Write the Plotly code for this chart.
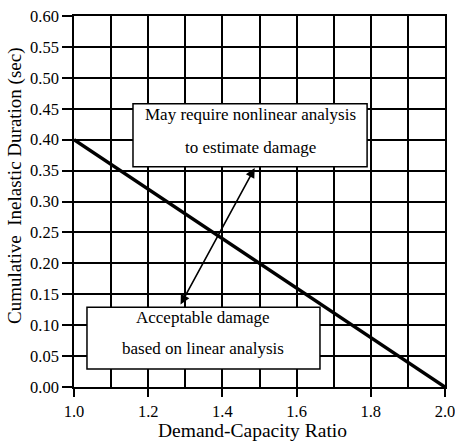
import plotly.graph_objects as go

# Data
ratio = [1.0, 2.0]
duration = [0.40, 0.00]
x_ticks = [1.0, 1.2, 1.4, 1.6, 1.8, 2.0]
x_ticklabels = ["1.0", "1.2", "1.4", "1.6", "1.8", "2.0"]
y_ticks = [0.00, 0.05, 0.10, 0.15, 0.20, 0.25, 0.30, 0.35, 0.40, 0.45, 0.50, 0.55, 0.60]
y_ticklabels = ["%.2f" % v for v in y_ticks]
box_upper_lines = ["May require nonlinear analysis", "to estimate damage"]
box_lower_lines = ["Acceptable damage", "based on linear analysis"]
x_title = "Demand-Capacity Ratio"
y_title = "Cumulative  Inelastic Duration (sec)"

FONT = "Liberation Serif, Times New Roman, serif"

fig = go.Figure()
fig.add_trace(go.Scatter(x=ratio, y=duration, mode="lines",
                         line=dict(color="black", width=3.5),
                         cliponaxis=False, showlegend=False, hoverinfo="skip"))

boxes = [
    dict(x0=1.159, x1=1.790, y0=0.356, y1=0.458, lines=box_upper_lines, ly=[0.440, 0.387]),
    dict(x0=1.035, x1=1.663, y0=0.029, y1=0.129, lines=box_lower_lines, ly=[0.113, 0.062]),
]
for b in boxes:
    fig.add_shape(type="rect", xref="x", yref="y", x0=b["x0"], x1=b["x1"], y0=b["y0"], y1=b["y1"],
                  line=dict(color="black", width=1.5), fillcolor="white", layer="above")
    xc = (b["x0"] + b["x1"]) / 2
    for t, yy in zip(b["lines"], b["ly"]):
        fig.add_annotation(x=xc, y=yy, xref="x", yref="y", text=t, showarrow=False,
                           xanchor="center", yanchor="middle",
                           font=dict(family=FONT, size=17, color="black"))

# double-headed arrow
fig.add_annotation(x=1.487, y=0.354, ax=1.285, ay=0.131, xref="x", yref="y", axref="x", ayref="y",
                   text="", showarrow=True, arrowhead=2, arrowside="end+start",
                   arrowsize=1.2, arrowwidth=1.6, arrowcolor="black", startarrowhead=2, startarrowsize=1.2)

# axis titles as annotations for precise placement
fig.add_annotation(x=0.481, y=-0.116, xref="paper", yref="paper", text=x_title, showarrow=False,
                   xanchor="center", yanchor="middle",
                   font=dict(family=FONT, size=19.5, color="black"))
fig.add_annotation(x=-0.159, y=0.542, xref="paper", yref="paper", text=y_title, showarrow=False,
                   xanchor="center", yanchor="middle",
                   textangle=-90, font=dict(family=FONT, size=19, color="black"))

fig.update_layout(
    width=455, height=442,
    margin=dict(l=74, r=10, t=16, b=55),
    paper_bgcolor="white", plot_bgcolor="white",
    font=dict(family=FONT, size=16, color="black"),
    xaxis=dict(range=[1.0, 2.0], tickmode="array", tickvals=x_ticks, ticktext=x_ticklabels,
               automargin=False, ticklabeloverflow="allow",
               showgrid=True, gridcolor="black", gridwidth=1.5,
               minor=dict(dtick=0.1, tick0=1.0, showgrid=True, gridcolor="black", gridwidth=1.5, ticks=""),
               ticks="outside", ticklen=8, tickwidth=1.5, tickcolor="black",
               showline=True, linecolor="black", linewidth=1.5, mirror=True, zeroline=False,
               tickfont=dict(size=16.5)),
    yaxis=dict(range=[0, 0.6], tickmode="array", tickvals=y_ticks, ticktext=y_ticklabels,
               automargin=False, ticklabeloverflow="allow",
               showgrid=True, gridcolor="black", gridwidth=1.5,
               ticks="outside", ticklen=10, tickwidth=1.5, tickcolor="black",
               showline=True, linecolor="black", linewidth=1.5, mirror=True, zeroline=False,
               tickfont=dict(size=16.5)),
)

fig.write_html("out.html")
